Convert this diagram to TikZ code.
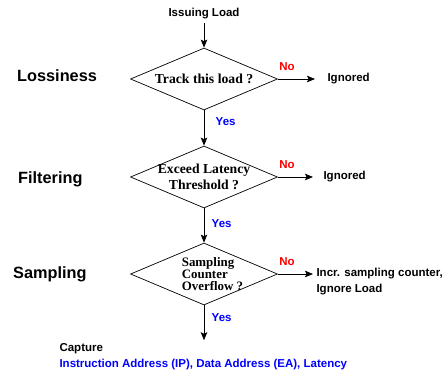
\documentclass[tikz,border=0pt]{standalone}
\usepackage{fontspec}
\setmainfont{Liberation Serif}
\setsansfont{Liberation Sans}
\usepackage{tikz}
\usetikzlibrary{shapes.geometric, arrows.meta}

\begin{document}
\begin{tikzpicture}[x=1pt, y=-1pt,
            decision/.style={
                draw, shape=diamond, aspect=2.37, line width=0.7pt,
                minimum width=147pt, minimum height=62pt, inner sep=-4pt,
                align=center, font=\fontsize{13.7}{16.6}\selectfont\bfseries
            },
            arrow/.style={-{Stealth[length=8pt, width=6.5pt, inset=1.5pt]}, line width=0.8pt},
            stage/.style={font=\sffamily\bfseries\fontsize{16.3}{19}\selectfont, anchor=base west, inner sep=0pt},
            tag/.style={font=\sffamily\bfseries\fontsize{11.5}{16}\selectfont},
            no/.style={tag, red, anchor=south west, inner xsep=1pt, inner ysep=8pt},
            yes/.style={tag, blue, right=4pt},
            result/.style={tag, anchor=west, align=left}
        ]
            \useasboundingbox (0,0) rectangle (446,372);

            % Stage names on the left
            \node[stage] (loss) at (17,81) {Lossiness};
            \node[stage] (filt) at (18,183) {Filtering};
            \node[stage] (samp) at (13,278) {Sampling};

            % Start
            \node[tag] (issue) at (204,14) {Issuing Load};

            % Decisions
            \node[decision] (track) at (204,79) {Track this load ?};
            \node[decision] (latency) at (204,177) {Exceed Latency\\Threshold ?};
            \node[decision, align=left, font=\fontsize{12.9}{12}\selectfont\bfseries] (overflow) at (204,274) {
                \hspace*{17pt}Sampling\\\hspace*{17pt}Counter\\\hspace*{17pt}Overflow ?
            };

            % Results
            \node[result] (ign1) at (324,79) {Ignored};
            \node[result] (ign2) at (320,177) {Ignored};
            \node[result] (incr) at (313,282) {Incr. sampling counter,\\Ignore Load};
            \node[result] (cap) at (56,357) {
                Capture\\\textcolor{blue}{Instruction Address (IP), Data Address (EA), Latency}
            };

            % Yes branch
            \draw[arrow] (issue) -- (track);
            \draw[arrow] (track) -- node[yes, pos=0.33, xshift=4pt] {Yes} (latency);
            \draw[arrow] (latency) -- node[yes, pos=0.43] {Yes} (overflow);
            \draw[arrow] (overflow) -- node[yes, pos=0.36] {Yes} (overflow.south |- cap.north);

            % No branch
            \draw[arrow, shorten >=9pt] (track) -- node[no, pos=0] {No} (ign1);
            \draw[arrow, shorten >=7pt] (latency) -- node[no, pos=0] {No} (ign2);
            \draw[arrow] (overflow) -- node[no, pos=0] {No} (overflow -| incr.west);
        \end{tikzpicture}
\end{document}
